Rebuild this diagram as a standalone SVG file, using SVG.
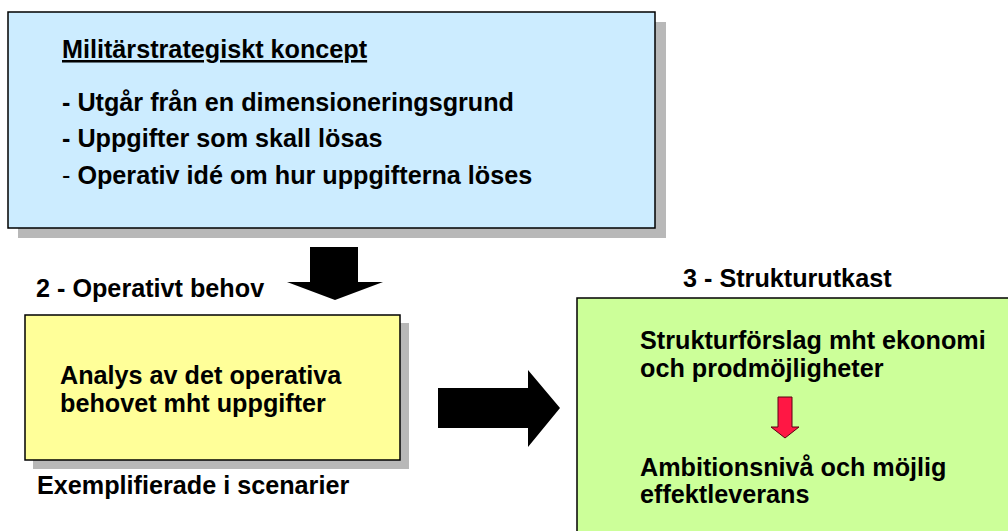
<svg xmlns="http://www.w3.org/2000/svg" width="1008" height="531" viewBox="0 0 1008 531">
  <style>
    .shadow { fill: #B8B8B8; }
    .box { stroke: #000; stroke-width: 1.5; }
    .t { font-family: "Liberation Sans", Arial, sans-serif; font-weight: bold; font-size: 25.2px; fill: #000; }
    .thin { font-weight: normal; }
    .arrow { fill: #000; }
  </style>
  <rect width="1008" height="531" fill="#fff"/>

  <g id="koncept">
    <rect class="shadow" x="18" y="22" width="648" height="216"/>
    <rect class="box" x="8" y="12" width="647" height="216" fill="#CCECFF"/>
    <text class="t" x="62" y="58" text-decoration="underline">Militärstrategiskt koncept</text>
    <text class="t" x="62" y="111">- Utgår från en dimensioneringsgrund</text>
    <text class="t" x="62" y="147">- Uppgifter som skall lösas</text>
    <text class="t" x="62" y="184"><tspan class="thin">-</tspan> Operativ idé om hur uppgifterna löses</text>
  </g>

  <g id="behov">
    <text class="t" x="36" y="297">2 - Operativt behov</text>
    <rect class="shadow" x="33" y="323" width="376" height="146"/>
    <rect class="box" x="25" y="315" width="375" height="145" fill="#FFFF99"/>
    <text class="t" x="60" y="384">Analys av det operativa</text>
    <text class="t" x="60" y="412">behovet mht uppgifter</text>
    <text class="t" x="37" y="494">Exemplifierade i scenarier</text>
  </g>

  <g id="strukturutkast">
    <text class="t" x="683" y="287">3 - Strukturutkast</text>
    <rect class="box" x="577" y="298" width="440" height="250" fill="#CCFF99"/>
    <text class="t" x="640" y="349">Strukturförslag mht ekonomi</text>
    <text class="t" x="640" y="377">och prodmöjligheter</text>
    <polygon points="778,397 792,397 792,427 799,427 785,438 771,427 778,427" fill="#FF1744" stroke="#5a0010" stroke-width="1"/>
    <text class="t" x="640" y="476">Ambitionsnivå och möjlig</text>
    <text class="t" x="640" y="503">effektleverans</text>
  </g>

  <g id="connectors">
    <polygon class="arrow" points="310,247 358,247 358,282 383,282 335,300 287,282 310,282"/>
    <polygon class="arrow" points="438,388 528,388 528,370 560,408 528,447 528,428 438,428"/>
  </g>
</svg>
